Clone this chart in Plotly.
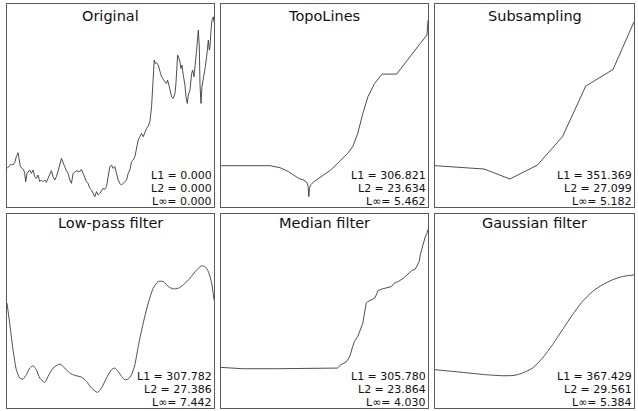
import plotly.graph_objects as go

# ---------------- data ----------------
orig_x = [0, 8, 13, 18, 23, 28, 33, 36, 40, 46, 50, 53, 56, 60, 63, 68, 73, 78, 83, 88, 93, 98, 103, 108,
          113, 118, 123, 128, 133, 138, 143, 148, 153, 158, 163, 168, 173, 178, 183, 188, 193, 198, 203,
          208, 218, 223, 228, 233, 238, 243, 248, 253, 258, 263, 268, 273, 278, 283, 288, 293, 298, 303,
          308, 313, 318, 323, 328, 333, 338, 343, 348, 353, 358, 363, 368, 373, 378, 383, 388, 393, 398,
          403, 408, 413, 418, 423, 428, 433, 436, 438, 441, 444, 448, 453, 456, 460, 463, 468, 473, 478,
          481, 485, 488, 493, 498, 503, 506, 508, 511, 515, 518, 521, 524, 528, 533, 536, 540, 543, 548,
          553, 556, 560, 563, 568, 573, 576, 578, 581, 584, 586, 590, 594, 598, 603, 606, 608, 611, 614,
          618, 620]
orig_y = [116, 124, 129, 126, 133, 151, 163, 146, 121, 116, 111, 101, 76, 101, 106, 111, 101, 111, 91, 86,
          96, 76, 81, 76, 81, 74, 86, 101, 109, 91, 81, 91, 106, 126, 146, 131, 121, 109, 101, 81, 71, 101,
          106, 109, 106, 113, 101, 86, 76, 71, 56, 51, 41, 31, 46, 36, 41, 51, 56, 53, 61, 91, 121, 126,
          116, 121, 101, 81, 71, 66, 71, 76, 81, 101, 111, 136, 141, 151, 176, 201, 211, 221, 211, 226,
          236, 243, 256, 301, 361, 411, 441, 431, 433, 426, 411, 401, 391, 381, 376, 371, 381, 366, 351,
          331, 326, 341, 371, 421, 456, 446, 436, 416, 426, 396, 366, 331, 311, 336, 351, 401, 411, 391,
          431, 471, 531, 481, 371, 311, 361, 371, 391, 421, 451, 501, 471, 481, 531, 561, 571, 556]

topo_x = [0, 145, 175, 200, 215, 230, 245, 255, 258, 260, 262, 265, 275, 295, 325, 355, 375, 390, 405,
          420, 435, 455, 477, 520, 540, 565, 590, 610, 613]
topo_y = [124, 124, 118, 106, 96, 86, 81, 73, 61, 31, 56, 66, 76, 91, 111, 141, 161, 181, 221, 281, 331,
          371, 399, 399, 426, 456, 491, 516, 561]

sub_x = [0, 53, 148, 225, 308, 383, 453, 535, 598]
sub_y = [124, 121, 114, 84, 126, 211, 363, 413, 556]

low_x = [0, 8, 18, 28, 38, 48, 58, 68, 78, 88, 98, 113, 123, 138, 158, 173, 188, 203, 223, 238, 253, 271,
         283, 298, 313, 323, 333, 343, 353, 363, 373, 383, 393, 408, 423, 438, 453, 468, 483, 498, 513,
         528, 548, 568, 583, 593, 603, 613, 620]
low_y = [315, 255, 175, 115, 90, 87, 100, 120, 127, 115, 90, 77, 95, 120, 132, 120, 105, 98, 93, 80, 60,
         47, 60, 90, 115, 120, 110, 95, 85, 87, 100, 130, 185, 255, 315, 360, 380, 380, 365, 358, 360,
         370, 390, 415, 427, 425, 410, 375, 325]

med_x = [0, 55, 65, 165, 345, 355, 370, 377, 383, 390, 395, 405, 413, 420, 425, 430, 435, 445, 455, 460,
         465, 475, 490, 505, 513, 525, 540, 555, 565, 575, 583, 587, 590, 595, 600, 605, 610, 613]
med_y = [122, 120, 118, 118, 120, 130, 138, 147, 160, 185, 200, 215, 240, 255, 285, 315, 320, 325, 330,
         340, 353, 357, 360, 365, 375, 380, 390, 403, 413, 417, 430, 440, 460, 480, 500, 515, 525, 537]

gau_x = [0, 53, 103, 153, 203, 238, 263, 293, 323, 353, 383, 413, 443, 473, 503, 533, 563, 598]
gau_y = [115, 110, 105, 100, 97, 98, 105, 120, 150, 190, 235, 280, 320, 350, 370, 385, 395, 400]

titles = ["Original", "TopoLines", "Subsampling", "Low-pass filter", "Median filter", "Gaussian filter"]
l1 = ["0.000", "306.821", "351.369", "307.782", "305.780", "367.429"]
l2 = ["0.000", "23.634", "27.099", "27.386", "23.864", "29.561"]
linf = ["0.000", "5.462", "5.182", "7.442", "4.030", "5.384"]

series = [(orig_x, orig_y, "linear"), (topo_x, topo_y, "linear"), (sub_x, sub_y, "linear"),
          (low_x, low_y, "spline"), (med_x, med_y, "linear"), (gau_x, gau_y, "spline")]

# ---------------- layout ----------------
W, H = 638, 411
xdom = [(7, 214), (221, 428), (435, 634)]
ydom = [(3.5, 207), (214, 408)]          # pixel rows (top, bottom)
xranges = [[0, 620], [0, 613], [0, 598]]
yranges = [[0, 611], [0, 583]]

fig = go.Figure()
FONT = "DejaVu Sans"
LINE = "#3a3a3a"
FRAME = "#5a5a5a"

for i, (xs, ys, shape) in enumerate(series):
    r, c = divmod(i, 3)
    n = i + 1
    xa = "x" if n == 1 else f"x{n}"
    ya = "y" if n == 1 else f"y{n}"
    fig.add_trace(go.Scatter(x=xs, y=ys, mode="lines", xaxis=xa, yaxis=ya,
                             line=dict(color=LINE, width=0.9, shape=shape, smoothing=0.6),
                             showlegend=False, hoverinfo="skip"))
    x0, x1 = xdom[c]
    t, b = ydom[r]
    axcommon = dict(showgrid=False, zeroline=False, showticklabels=False, ticks="",
                    showline=True, mirror=True, linecolor=FRAME, linewidth=1.2, fixedrange=True)
    fig.layout[f"xaxis{'' if n == 1 else n}"] = dict(domain=[x0 / W, x1 / W], range=xranges[c],
                                                     anchor=ya, **axcommon)
    fig.layout[f"yaxis{'' if n == 1 else n}"] = dict(domain=[(H - b) / H, (H - t) / H], range=yranges[r],
                                                     anchor=xa, **axcommon)
    xd = f"{xa} domain"
    yd = f"{ya} domain"
    fig.add_annotation(text=titles[i], xref=xd, yref=yd, x=0.5, y=1, xanchor="center", yanchor="middle",
                       yshift=-12 if r == 0 else -9, showarrow=False,
                       font=dict(family=FONT, size=14.5, color="#111"))
    for k, (txt, sh) in enumerate([("L1 = " + l1[i], 32.5), ("L2 = " + l2[i], 19.5), ("L∞= " + linf[i], 6.5)]):
        fig.add_annotation(text=txt, xref=xd, yref=yd, x=1, y=0, xanchor="right", yanchor="middle",
                           xshift=-1, yshift=sh, showarrow=False, borderpad=0, height=12,
                           font=dict(family=FONT, size=11, color="#111"))

fig.update_layout(width=W, height=H, margin=dict(l=0, r=0, t=0, b=0),
                  paper_bgcolor="white", plot_bgcolor="white")

fig.write_html("out.html", config={"displayModeBar": False},
               post_script="document.body.style.margin='0';")
